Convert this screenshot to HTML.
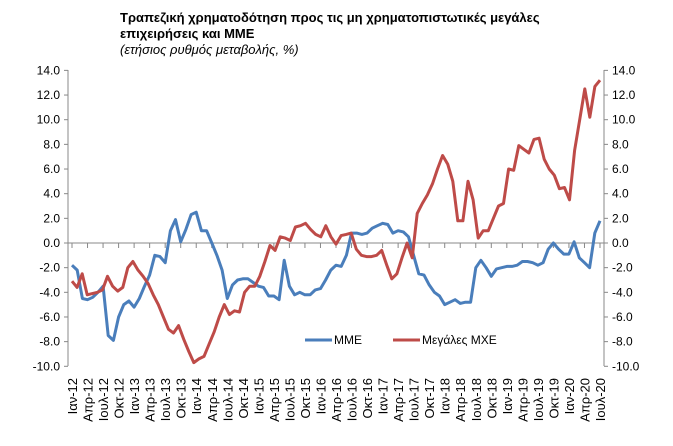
<!DOCTYPE html>
<html><head><meta charset="utf-8"><style>body{margin:0;background:#fff}svg{display:block;font-family:"Liberation Sans",sans-serif}</style></head><body>
<svg id="s" width="673" height="446" xmlns="http://www.w3.org/2000/svg">
<text x="120" y="22" font-size="13" font-weight="bold">Τραπεζική χρηματοδότηση προς τις μη χρηματοπιστωτικές μεγάλες</text>
<text x="120" y="38" font-size="13" font-weight="bold">επιχειρήσεις και ΜΜΕ</text>
<text x="120" y="54" font-size="13" font-style="italic">(ετήσιος ρυθμός μεταβολής, %)</text>
<g id="g"></g>
</svg>
<script>
const NS="http://www.w3.org/2000/svg",g=document.getElementById('g');
function el(t,a,txt){const e=document.createElementNS(NS,t);for(const k in a)e.setAttribute(k,a[k]);if(txt!==undefined)e.textContent=txt;g.appendChild(e);return e;}
const y=v=>243-v*12.33, x0=72, dx=(600-72)/102, X=i=>x0+i*dx;
el('line',{x1:68,y1:70,x2:68,y2:366,stroke:'#888'});
el('line',{x1:604,y1:70,x2:604,y2:366,stroke:'#888'});
for(let v=-10;v<=14;v+=2){const s=v.toFixed(1);
el('line',{x1:64,y1:y(v),x2:68,y2:y(v),stroke:'#888'});
el('line',{x1:604,y1:y(v),x2:608,y2:y(v),stroke:'#888'});
el('text',{x:60,y:y(v)+4,'font-size':12,'text-anchor':'end'},s);
el('text',{x:612,y:y(v)+4,'font-size':12},s);}
el('line',{x1:68,y1:243,x2:604,y2:243,stroke:'#888'});
const mon=['Ιαν','Απρ','Ιουλ','Οκτ'];
for(let i=0;i<=102;i+=3){el('line',{x1:X(i),y1:243,x2:X(i),y2:248,stroke:'#888'});
const yr=12+Math.floor(i/12),lab=mon[(i%12)/3]+'-'+yr;
el('text',{x:0,y:0,'font-size':13,'text-anchor':'end',transform:`translate(${X(i)+5},378) rotate(-90)`},lab);}
const b=[-1.8,-2.2,-4.5,-4.6,-4.4,-4.0,-3.5,-7.5,-7.9,-6.0,-5.0,-4.7,
-5.2,-4.5,-3.5,-2.6,-1.0,-1.1,-1.6,1.0,1.9,0.1,1.1,2.3,
2.5,1.0,1.0,0.0,-1.0,-2.2,-4.5,-3.4,-3.0,-2.9,-2.9,-3.2,
-3.5,-3.6,-4.3,-4.3,-4.6,-1.4,-3.5,-4.2,-4.0,-4.2,-4.2,-3.8,
-3.7,-3.0,-2.2,-1.8,-1.9,-1.0,0.8,0.8,0.7,0.8,1.2,1.4,
1.6,1.5,0.8,1.0,0.9,0.5,-1.0,-2.5,-2.6,-3.4,-4.0,-4.3,
-5.0,-4.8,-4.6,-4.9,-4.8,-4.8,-2.0,-1.4,-2.0,-2.7,-2.1,-2.0,
-1.9,-1.9,-1.8,-1.5,-1.5,-1.6,-1.8,-1.6,-0.5,0.0,-0.5,-0.9,
-0.9,0.1,-1.2,-1.6,-2.0,0.8,1.8];
const r=[-3.1,-3.6,-2.5,-4.2,-4.1,-4.0,-3.8,-2.7,-3.5,-3.9,-3.6,-2.0,
-1.5,-2.2,-2.7,-3.3,-4.2,-5.0,-6.0,-7.0,-7.3,-6.7,-7.8,-8.8,
-9.7,-9.4,-9.2,-8.2,-7.2,-6.0,-5.0,-5.8,-5.5,-5.6,-4.0,-3.5,
-3.5,-2.7,-1.5,-0.2,-0.6,0.5,0.4,0.2,1.3,1.4,1.6,1.1,
0.7,0.5,1.4,0.5,-0.1,0.6,0.7,0.8,-0.5,-1.0,-1.1,-1.1,
-1.0,-0.6,-1.8,-2.9,-2.5,-1.2,0.0,-1.2,2.4,3.2,3.9,4.8,
6.0,7.1,6.4,5.0,1.8,1.8,5.0,3.5,0.4,1.0,1.0,2.0,
3.0,3.2,6.0,5.9,7.9,7.6,7.3,8.4,8.5,6.8,6.0,5.5,
4.4,4.5,3.5,7.5,10.0,12.5,10.2,12.7,13.2];
function line(d,c){el('polyline',{points:d.map((v,i)=>X(i*(102/(d.length-1))).toFixed(1)+','+y(v).toFixed(1)).join(' '),fill:'none',stroke:c,'stroke-width':3,'stroke-linejoin':'round'});}
line(b,'#4a7ebb');line(r,'#be4b48');
el('line',{x1:305,y1:340,x2:332,y2:340,stroke:'#4a7ebb','stroke-width':3});
el('text',{x:334,y:344,'font-size':12},'MME');
el('line',{x1:393,y1:340,x2:420,y2:340,stroke:'#be4b48','stroke-width':3});
el('text',{x:422,y:344,'font-size':12},'Μεγάλες ΜΧΕ');
</script>
</body></html>
